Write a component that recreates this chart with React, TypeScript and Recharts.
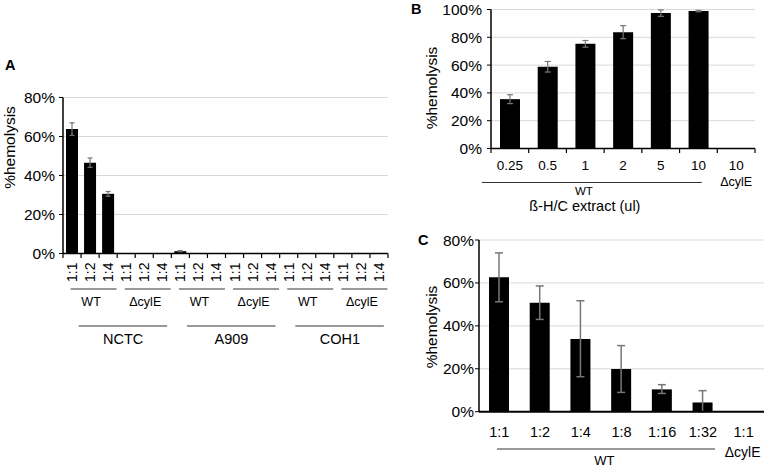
import React from 'react';
import { BarChart, Bar, XAxis, YAxis, CartesianGrid, ErrorBar } from 'recharts';

const FONT = '"Liberation Sans", Arial, Helvetica, sans-serif';

// ---------- Panel A data ----------
const aStrainNames = ['NCTC', 'A909', 'COH1'];
const aGenotypes = ['WT', 'ΔcylE'];
const aDilutions = ['1:1', '1:2', '1:4'];
const aValues = [63.8, 46.6, 30.6, 0, 0, 0, 1.2, 0, 0, 0, 0, 0, 0, 0, 0, 0, 0, 0];
const aErrors = [3.2, 2.4, 1.2, 0, 0, 0, 0.3, 0, 0, 0, 0, 0, 0, 0, 0, 0, 0, 0];
const aTicks = [0, 20, 40, 60, 80];

// ---------- Panel B data ----------
const bDoses = ['0.25', '0.5', '1', '2', '5', '10', '10'];
const bGenotypes = ['WT', 'WT', 'WT', 'WT', 'WT', 'WT', 'ΔcylE'];
const bValues = [35.5, 58.8, 75.3, 83.7, 97.4, 98.9, 0];
const bErrors = [3.2, 3.8, 2.4, 4.7, 2.3, 0.5, 0];
const bTicks = [0, 20, 40, 60, 80, 100];

// ---------- Panel C data ----------
const cDilutions = ['1:1', '1:2', '1:4', '1:8', '1:16', '1:32', '1:1'];
const cGenotypes = ['WT', 'WT', 'WT', 'WT', 'WT', 'WT', 'ΔcylE'];
const cValues = [62.6, 50.8, 33.9, 19.9, 10.4, 4.3, 0];
const cErrLow = [11.4, 7.8, 17.6, 10.9, 1.9, 4.3, 0];
const cErrHigh = [11.4, 7.8, 17.8, 10.9, 2.2, 5.5, 1.6];
const cTicks = [0, 20, 40, 60, 80];

const aRows: any[] = [];
aStrainNames.forEach((s) =>
  aGenotypes.forEach((g) =>
    aDilutions.forEach((d) => {
      const i = aRows.length;
      aRows.push({ key: `${s}-${g}-${d}`, strain: s, genotype: g, dilution: d, value: aValues[i], err: aErrors[i] || null });
    })
  )
);
const bRows = bDoses.map((d, i) => ({ key: `${bGenotypes[i]}-${d}-${i}`, dose: d, genotype: bGenotypes[i], value: bValues[i], err: bErrors[i] || null }));
const cRows = cDilutions.map((d, i) => ({
  key: `${cGenotypes[i]}-${d}-${i}`,
  dilution: d,
  genotype: cGenotypes[i],
  value: cValues[i],
  err: cErrHigh[i] ? [cErrLow[i], cErrHigh[i]] : null,
}));

const pct = (v: number) => `${v}%`;

// geometry (page coordinates; every chart svg covers the page)
const W = 765;
const H = 469;
const A_L = 63, A_R = 388, A_T = 97.5, A_B = 253.5;
const B_L = 491, B_R = 755, B_T = 9.5, B_B = 148.5;
const C_L = 479, C_R = 764, C_T = 240, C_B = 411.7;
const XH = 30;
const A_BAND = (A_R - A_L) / aRows.length;
const B_BAND = (B_R - B_L) / bRows.length;

const txt = { fontFamily: FONT, fill: '#000' };

function ATick(props: any) {
  const { x } = props;
  const i = props.index ?? props.payload?.index ?? 0;
  const row = aRows[i];
  const half = A_BAND / 2;
  return (
    <g>
      <line x1={x - half} x2={x - half} y1={A_B} y2={A_B + 4.5} stroke="#000" strokeWidth={1.2} />
      {i === aRows.length - 1 && <line x1={x + half} x2={x + half} y1={A_B} y2={A_B + 4.5} stroke="#000" strokeWidth={1.2} />}
      <text x={x} y={262.5} transform={`rotate(-90 ${x} 262.5)`} textAnchor="end" dominantBaseline="central" fontSize={14} {...txt}>
        {row.dilution}
      </text>
      {i % 3 === 1 && (
        <g>
          <line x1={x - 19.5} x2={x + 26.5} y1={289} y2={289} stroke="#333" strokeWidth={1} />
          <text x={x + 1} y={306} textAnchor="middle" fontSize={12.5} {...txt}>
            {row.genotype}
          </text>
        </g>
      )}
      {i % 6 === 2 && (
        <g>
          <line x1={x + half - 38.5} x2={x + half + 50} y1={326} y2={326} stroke="#333" strokeWidth={1} />
          <text x={x + half + 6} y={343.5} textAnchor="middle" fontSize={14.5} {...txt}>
            {row.strain}
          </text>
        </g>
      )}
    </g>
  );
}

function BTick(props: any) {
  const { x } = props;
  const i = props.index ?? props.payload?.index ?? 0;
  const row = bRows[i];
  const half = B_BAND / 2;
  return (
    <g>
      <line x1={x - half} x2={x - half} y1={B_B} y2={B_B + 4.5} stroke="#000" strokeWidth={1.2} />
      {i === bRows.length - 1 && <line x1={x + half} x2={x + half} y1={B_B} y2={B_B + 4.5} stroke="#000" strokeWidth={1.2} />}
      <text x={x} y={169.5} textAnchor="middle" fontSize={13.5} {...txt}>
        {row.dose}
      </text>
      {row.genotype !== 'WT' && (
        <text x={x} y={186} textAnchor="middle" fontSize={12.5} {...txt}>
          {row.genotype}
        </text>
      )}
      {i === 0 && (
        <g>
          <line x1={x - 28} x2={x + 192} y1={182.5} y2={182.5} stroke="#333" strokeWidth={1} />
          <text x={x + 74} y={195} textAnchor="middle" fontSize={11.5} {...txt}>
            WT
          </text>
          <text x={x + 75} y={211} textAnchor="middle" fontSize={14.5} {...txt}>
            ß-H/C extract (ul)
          </text>
        </g>
      )}
    </g>
  );
}

function CTick(props: any) {
  const { x } = props;
  const i = props.index ?? props.payload?.index ?? 0;
  const row = cRows[i];
  return (
    <g>
      <text x={x} y={437} textAnchor="middle" fontSize={14.5} {...txt}>
        {row.dilution}
      </text>
      {row.genotype !== 'WT' && (
        <text x={x - 1} y={456.5} textAnchor="middle" fontSize={14} {...txt}>
          {row.genotype}
        </text>
      )}
      {i === 0 && (
        <g>
          <line x1={x - 2.4} x2={x + 215.6} y1={449} y2={449} stroke="#333" strokeWidth={1} />
          <text x={x + 105} y={465} textAnchor="middle" fontSize={13} {...txt}>
            WT
          </text>
        </g>
      )}
    </g>
  );
}

const panelLabel = (title: string, tx: number, ty: number, lx: number, ly: number) => () => (
  <g>
    <text x={tx} y={ty} fontSize={14.5} fontWeight="bold" {...txt}>
      {title}
    </text>
    <text x={lx} y={ly} transform={`rotate(-90 ${lx} ${ly})`} textAnchor="middle" dominantBaseline="central" fontSize={15.5} {...txt}>
      %hemolysis
    </text>
  </g>
);

const layer: React.CSSProperties = { position: 'absolute', left: 0, top: 0 };
const axisStroke = { stroke: '#000', strokeWidth: 1.5 };

export default function App() {
  return (
    <div style={{ position: 'absolute', left: 0, top: 0, width: W, height: H, background: '#fff', overflow: 'hidden' }}>
      <div style={layer}>
        <BarChart width={W} height={H} data={aRows} margin={{ top: A_T, right: W - A_R, left: 0, bottom: H - A_B - XH }}>
          <CartesianGrid vertical={false} stroke="#d9d9d9" />
          <XAxis dataKey="key" interval={0} tickLine={false} axisLine={axisStroke} height={XH} tick={ATick} />
          <YAxis
            width={A_L}
            domain={[0, 80]}
            ticks={aTicks}
            tickFormatter={pct}
            axisLine={axisStroke}
            tickLine={{ stroke: '#000' }}
            tickSize={4}
            tickMargin={4}
            tick={{ fontSize: 15.5, fill: '#000', fontFamily: FONT }}
            label={panelLabel('A', 5, 69.5, 9.5, 147.5)}
          />
          <Bar dataKey="value" fill="#000" barSize={12} isAnimationActive={false}>
            <ErrorBar dataKey="err" width={2.5} stroke="#777" strokeWidth={1.2} />
          </Bar>
        </BarChart>
      </div>
      <div style={layer}>
        <BarChart width={W} height={H} data={bRows} margin={{ top: B_T, right: W - B_R, left: 0, bottom: H - B_B - XH }}>
          <CartesianGrid vertical={false} stroke="#d9d9d9" />
          <XAxis dataKey="key" interval={0} tickLine={false} axisLine={axisStroke} height={XH} tick={BTick} />
          <YAxis
            width={B_L}
            domain={[0, 100]}
            ticks={bTicks}
            tickFormatter={pct}
            axisLine={axisStroke}
            tickLine={{ stroke: '#000' }}
            tickSize={4}
            tickMargin={5}
            tick={{ fontSize: 15.5, fill: '#000', fontFamily: FONT }}
            label={panelLabel('B', 411, 14, 431, 88)}
          />
          <Bar dataKey="value" fill="#000" barSize={20} isAnimationActive={false}>
            <ErrorBar dataKey="err" width={3} stroke="#777" strokeWidth={1.2} />
          </Bar>
        </BarChart>
      </div>
      <div style={layer}>
        <BarChart width={W} height={H} data={cRows} margin={{ top: C_T, right: W - C_R, left: 0, bottom: H - C_B - XH }}>
          <CartesianGrid vertical={false} stroke="#d9d9d9" />
          <XAxis dataKey="key" interval={0} tickLine={false} axisLine={{ stroke: '#000', strokeWidth: 2 }} height={XH} tick={CTick} />
          <YAxis
            width={C_L}
            domain={[0, 80]}
            ticks={cTicks}
            tickFormatter={pct}
            axisLine={axisStroke}
            tickLine={{ stroke: '#000' }}
            tickSize={4}
            tickMargin={1}
            tick={{ fontSize: 15.5, fill: '#000', fontFamily: FONT }}
            label={panelLabel('C', 418, 245, 431, 327)}
          />
          <Bar dataKey="value" fill="#000" barSize={20} isAnimationActive={false}>
            <ErrorBar dataKey="err" width={4} stroke="#777" strokeWidth={1.5} />
          </Bar>
        </BarChart>
      </div>
    </div>
  );
}
